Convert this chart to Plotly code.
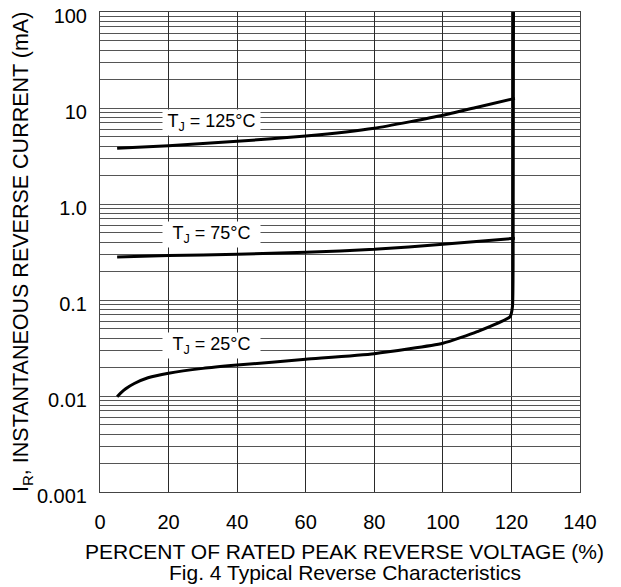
import plotly.graph_objects as go
import math

# ---- data ----
x_125 = [5, 20, 40, 60, 80, 100, 110, 121]
y_125 = [3.8, 4.05, 4.5, 5.1, 6.15, 8.4, 10.2, 12.6]

x_75 = [5, 20, 40, 60, 80, 100, 121]
y_75 = [0.28, 0.29, 0.30, 0.314, 0.337, 0.38, 0.44]

x_25 = [5, 6, 7.5, 10, 14, 20, 30, 40, 60, 80, 100, 110, 119.6, 120.3, 120.5, 120.6]
y_25 = [0.0098, 0.0107, 0.0119, 0.0135, 0.0155, 0.0173, 0.0194, 0.021, 0.0241, 0.0276, 0.0354, 0.0468, 0.067, 0.085, 0.3, 100]

x_ticks = [0, 20, 40, 60, 80, 100, 120, 140]
y_ticks = [0.001, 0.01, 0.1, 1, 10, 100]
y_tick_labels = ["0.001", "0.01", "0.1", "1.0", "10", "100"]
y_minor = [m * 10 ** e for e in range(-3, 2) for m in range(2, 10)]

labels = ["T<sub>J</sub> = 125°C", "T<sub>J</sub> = 75°C", "T<sub>J</sub> = 25°C"]
label_x = [32.6, 32.6, 32.6]
label_y = [7.0, 0.48, 0.0335]

FONT = "Liberation Sans, Arial, sans-serif"

fig = go.Figure()
for xs, ys in [(x_125, y_125), (x_75, y_75), (x_25, y_25)]:
    fig.add_trace(go.Scatter(x=xs, y=ys, mode="lines",
                             line=dict(color="black", width=3, shape="spline", smoothing=0.5),
                             showlegend=False, hoverinfo="skip"))

for t, lx, ly in zip(labels, label_x, label_y):
    fig.add_annotation(x=lx, y=math.log10(ly), xref="x", yref="y", text=t,
                       showarrow=False, bgcolor="white", width=97, height=25,
                       borderpad=0, font=dict(size=18, color="black", family=FONT))

fig.add_annotation(xref="paper", yref="paper", x=0.5104, y=0, yshift=-59.7,
                   yanchor="middle", xanchor="center", showarrow=False,
                   text="PERCENT OF RATED PEAK REVERSE VOLTAGE (%)",
                   font=dict(size=21, color="black", family=FONT))
fig.add_annotation(xref="paper", yref="paper", x=0.5104, y=0, yshift=-80,
                   yanchor="middle", xanchor="center", showarrow=False,
                   text="Fig. 4 Typical Reverse Characteristics",
                   font=dict(size=21, color="black", family=FONT))
fig.add_annotation(xref="paper", yref="paper", x=0, xshift=-78, y=0.5, yshift=0,
                   xanchor="center", yanchor="middle", showarrow=False, textangle=-90,
                   text="I<sub>R</sub>, INSTANTANEOUS REVERSE CURRENT (mA)",
                   font=dict(size=21.5, color="black", family=FONT))

fig.update_xaxes(range=[0, 140], tickvals=x_ticks, ticks="", showgrid=True,
                 gridcolor="#2a2a2a", gridwidth=1, zeroline=False, automargin=False,
                 showline=True, mirror=True, linecolor="#444", linewidth=1,
                 tickfont=dict(size=20, color="black", family=FONT),
                 ticklabelstandoff=12, ticklabeloverflow="allow")
fig.update_yaxes(type="log", range=[-3, 2], tickvals=y_ticks, ticktext=y_tick_labels,
                 ticks="", showgrid=True, gridcolor="#555", gridwidth=1, zeroline=False,
                 automargin=False,
                 showline=True, mirror=True, linecolor="#444", linewidth=1,
                 tickfont=dict(size=20, color="black", family=FONT),
                 ticklabelstandoff=8, ticklabelshift=4, ticklabeloverflow="allow",
                 minor=dict(tickvals=y_minor, showgrid=True, gridcolor="#555",
                            gridwidth=1, ticks=""))

# the page body adds an 8 px offset, so the figure is drawn 8 px smaller
fig.update_layout(width=613, height=579, autosize=False,
                  margin=dict(l=92, r=41, t=4, b=95),
                  paper_bgcolor="white", plot_bgcolor="white",
                  font=dict(family=FONT, color="black"))

fig.write_html("out.html")
